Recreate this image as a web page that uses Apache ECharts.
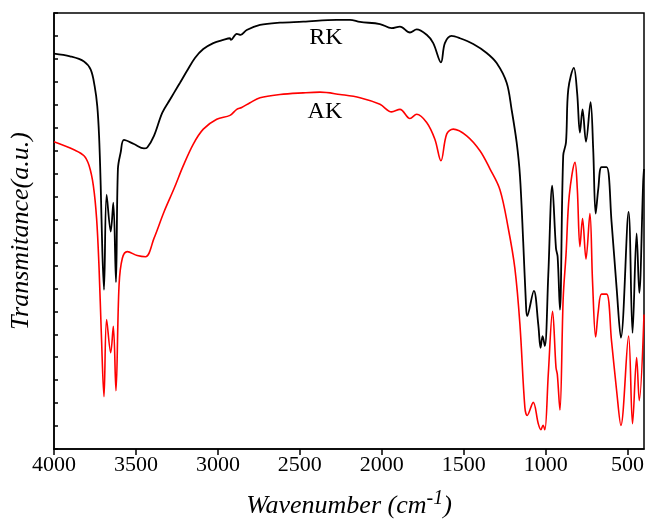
<!DOCTYPE html>
<html><head><meta charset="utf-8">
<script src="https://cdn.jsdelivr.net/npm/echarts@6/dist/echarts.min.js"></script>
<style>html,body{margin:0;padding:0;background:#fff}#c{width:648px;height:524px}</style>
</head><body><div id="c"></div>
<script>
const rkWavenumber = [4000,3902,3817,3776,3752,3736,3725,3715,3705,3695,3679,3654,3638,3622,3610,3593,3573,3512,3451,3431,3390,3339,3292,3268,3231,3190,3140,3089,3028,2967,2926,2920,2885,2861,2824,2743,2621,2479,2275,2194,2133,2011,1940,1889,1828,1787,1726,1686,1639,1615,1574,1523,1442,1360,1299,1238,1208,1177,1157,1137,1121,1113,1072,1045,1031,1019,1005,984,960,937,927,913,893,876,862,828,808,791,775,754,726,710,695,679,659,628,598,567,541,494,470,445,429,405,400];
const rkValue = [17.23,17.11,16.89,16.53,15.81,14.94,13.65,11.48,8.61,6.94,11.08,9.47,10.73,7.27,12.21,12.93,13.47,13.29,13.10,13.14,13.65,14.66,15.23,15.52,15.96,16.46,17.04,17.43,17.69,17.83,17.90,17.83,18.09,18.05,18.26,18.48,18.58,18.62,18.70,18.70,18.61,18.52,18.34,18.41,18.15,18.29,18.05,17.69,16.85,17.69,18.00,17.90,17.65,17.26,16.82,15.96,14.80,13.36,11.92,9.03,6.44,5.79,6.89,5.42,4.41,4.92,4.49,7.59,11.48,8.74,8.38,6.07,12.78,13.36,15.67,16.61,15.52,13.79,14.80,13.39,15.12,13.07,10.26,11.34,12.28,12.28,9.90,7.01,4.85,10.33,5.06,9.39,6.80,11.63,12.2];
const akWavenumber = [4000,3878,3817,3786,3760,3740,3725,3711,3695,3679,3654,3638,3622,3603,3583,3553,3492,3441,3390,3329,3268,3211,3150,3089,3007,2926,2885,2855,2804,2743,2621,2479,2377,2255,2133,2011,1940,1889,1828,1787,1726,1676,1639,1604,1564,1482,1401,1340,1279,1228,1188,1157,1127,1113,1076,1045,1029,1016,1005,984,958,937,929,913,893,876,856,821,807,791,775,754,730,714,695,679,659,628,598,567,541,494,470,445,429,400];
const akValue = [13.39,13.04,12.78,12.35,11.48,10.04,7.88,4.99,2.28,5.64,4.20,5.35,2.54,7.15,8.31,8.60,8.43,8.38,9.18,10.33,11.34,12.35,13.29,13.94,14.37,14.54,14.80,14.88,15.09,15.31,15.45,15.52,15.55,15.45,15.31,15.02,14.69,14.80,14.40,14.59,14.23,13.50,12.56,13.72,13.94,13.65,13.00,12.21,11.30,9.61,7.88,5.42,1.82,1.46,2.03,1.10,0.84,1.03,0.84,3.26,6.00,3.55,3.26,1.70,6.58,8.45,11.05,12.49,11.34,8.82,10.04,8.28,10.26,7.30,4.88,6.00,6.75,6.75,4.70,2.54,1.03,4.92,1.10,3.98,2.11,5.86];
const xMajorTicks = [500,1000,1500,2000,2500,3000,3500,4000];
const seriesNames = ['RK','AK'];
const labelSpots = [[2341,17.92],[2347,14.72]];

const font = '"Liberation Serif","Times New Roman",serif';
const chart = echarts.init(document.getElementById('c'), null, {renderer:'canvas'});
const pairs = (xs, ys) => xs.map((x,i)=>[x, ys[i]]);
const mk = (name, spot) => ({
  symbol:'circle', symbolSize:1, itemStyle:{color:'rgba(0,0,0,0)'},
  data:[{coord:spot}],
  label:{show:true, position:'inside', formatter:name, color:'#000', fontFamily:font, fontSize:24}
});
chart.setOption({
  animation:false,
  grid:{left:54,right:4,top:13,bottom:72,show:true,borderColor:'#000',borderWidth:1.5,backgroundColor:'transparent'},
  xAxis:{
    type:'value',min:400,max:4000,inverse:true,
    axisLine:{lineStyle:{color:'#000',width:1.5}},
    axisTick:{customValues:xMajorTicks,length:6,lineStyle:{color:'#000',width:1.5}},
    minorTick:{show:true,splitNumber:2,length:4,lineStyle:{color:'#000',width:1.5}},
    axisLabel:{customValues:xMajorTicks,formatter:v=>String(v),color:'#000',fontFamily:font,fontSize:22,margin:5},
    splitLine:{show:false},
    name:'{n|Wavenumber (cm}{s|-1}{n|)}',nameLocation:'middle',nameGap:40,
    nameTextStyle:{rich:{
      n:{fontFamily:font,fontStyle:'italic',fontSize:26,color:'#000',lineHeight:30},
      s:{fontFamily:font,fontStyle:'italic',fontSize:20,color:'#000',padding:[0,0,14,0]}
    }}
  },
  yAxis:{
    type:'value',min:0,max:19,interval:1,
    axisLine:{show:true,lineStyle:{color:'#000',width:1.5}},
    axisTick:{show:true,inside:true,length:4,lineStyle:{color:'#000',width:1.5}},
    axisLabel:{show:false},splitLine:{show:false},
    name:'Transmitance(a.u.)',nameLocation:'middle',nameGap:20,
    nameTextStyle:{fontFamily:font,fontStyle:'italic',fontSize:26,color:'#000'}
  },
  series:[
    {name:seriesNames[0],type:'line',data:pairs(rkWavenumber,rkValue),showSymbol:false,smooth:0.35,
     lineStyle:{color:'#000',width:1.8},markPoint:mk(seriesNames[0],labelSpots[0])},
    {name:seriesNames[1],type:'line',data:pairs(akWavenumber,akValue),showSymbol:false,smooth:0.35,
     lineStyle:{color:'#ff0000',width:1.6},markPoint:mk(seriesNames[1],labelSpots[1])}
  ]
});
</script></body></html>
